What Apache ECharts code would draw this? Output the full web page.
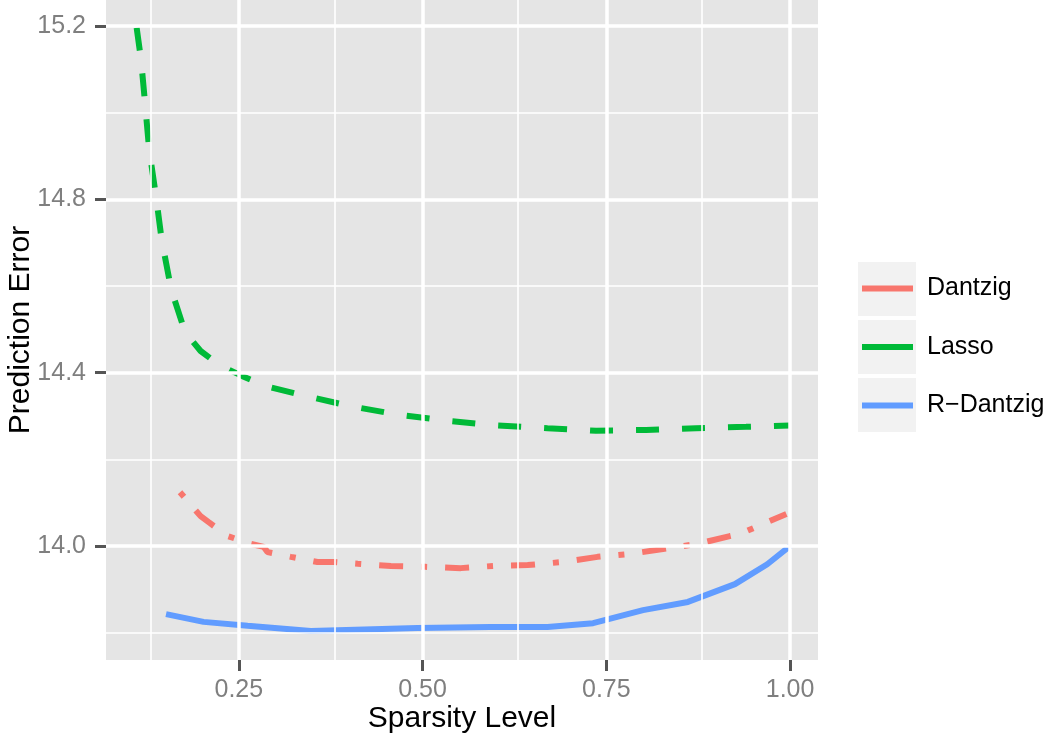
<!DOCTYPE html>
<html>
<head>
<meta charset="utf-8">
<script src="https://cdn.jsdelivr.net/npm/echarts@6/dist/echarts.min.js"></script>
<style>
  html, body { margin: 0; padding: 0; background: #fff; }
  #main { width: 1050px; height: 735px; }
</style>
</head>
<body>
<div id="main"></div>
<script>
// tick values
const xMajor = [0.25, 0.5, 0.75, 1.0]
const xMinor = [0.125, 0.375, 0.625, 0.875]
const yMajor = [14.0, 14.4, 14.8, 15.2]
const yMinor = [13.8, 14.2, 14.6, 15.0]

const seriesNames = ['Dantzig', 'Lasso', 'R\u2212Dantzig']

// Dantzig (dot-dash)
const dantzigX = [0.170, 0.198, 0.209, 0.235, 0.266, 0.284, 0.289, 0.321, 0.357, 0.379, 0.412, 0.457, 0.504,
  0.552, 0.596, 0.643, 0.690, 0.738, 0.783, 0.827, 0.874, 0.918, 0.932, 0.963, 0.995]
const dantzigY = [14.124, 14.069, 14.055, 14.023, 14.005, 13.998, 13.986, 13.975, 13.963, 13.963, 13.959, 13.954, 13.952,
  13.949, 13.954, 13.956, 13.963, 13.975, 13.982, 13.993, 14.005, 14.023, 14.028, 14.051, 14.074]

// Lasso (dashed)
const lassoX = [0.111, 0.117, 0.122, 0.128, 0.137, 0.145, 0.158, 0.177, 0.198, 0.224, 0.255, 0.287, 0.334,
  0.401, 0.467, 0.534, 0.596, 0.670, 0.736, 0.804, 0.872, 0.940, 1.0]
const lassoY = [15.196, 15.122, 15.030, 14.915, 14.811, 14.707, 14.592, 14.493, 14.450, 14.417, 14.392, 14.369, 14.349,
  14.323, 14.303, 14.289, 14.279, 14.272, 14.266, 14.268, 14.272, 14.275, 14.278]

// R-Dantzig (solid)
const rdantzigX = [0.151, 0.202, 0.262, 0.348, 0.493, 0.592, 0.670, 0.732, 0.800, 0.861, 0.925, 0.969, 1.0]
const rdantzigY = [13.843, 13.825, 13.816, 13.804, 13.811, 13.813, 13.813, 13.822, 13.852, 13.871, 13.912, 13.958, 14.0]

const zip = (xs, ys) => xs.map((x, i) => [x, ys[i]])

const font = "'Liberation Sans', Arial, sans-serif"
const myChart = echarts.init(document.getElementById('main'))

// grid lines (ggplot style, drawn as markLines at the tick values)
const gridLines = [
  ...xMinor.map(v => ({ xAxis: v, lineStyle: { width: 1.6 } })),
  ...yMinor.map(v => ({ yAxis: v, lineStyle: { width: 1.6 } })),
  ...xMajor.map(v => ({ xAxis: v, lineStyle: { width: 3.5 } })),
  ...yMajor.map(v => ({ yAxis: v, lineStyle: { width: 3.5 } }))
]

const option = {
  animation: false,
  textStyle: { fontFamily: font },
  grid: {
    show: true,
    left: 106,
    right: 232,
    top: 0,
    bottom: 75,
    containLabel: false,
    outerBoundsMode: 'none',
    backgroundColor: '#E5E5E5',
    borderWidth: 0
  },
  xAxis: {
    type: 'value',
    min: 0.0693,
    max: 1.038,
    name: 'Sparsity Level',
    nameLocation: 'middle',
    nameGap: 44,
    nameMoveOverlap: false,
    nameTextStyle: { fontSize: 30, color: '#000', fontFamily: font },
    axisLine: { show: false },
    axisTick: { show: true, customValues: xMajor, length: 11, lineStyle: { color: '#555', width: 3 } },
    axisLabel: {
      customValues: xMajor, margin: 18, fontSize: 25, color: '#7F7F7F', fontFamily: font,
      formatter: v => v.toFixed(2)
    },
    splitLine: { show: false }
  },
  yAxis: {
    type: 'value',
    min: 13.737,
    max: 15.26,
    name: 'Prediction Error',
    nameLocation: 'middle',
    nameRotate: 90,
    nameGap: 70,
    nameMoveOverlap: false,
    nameTextStyle: { fontSize: 30, color: '#000', fontFamily: font },
    axisLine: { show: false },
    axisTick: { show: true, customValues: yMajor, length: 11, lineStyle: { color: '#555', width: 3 } },
    axisLabel: {
      customValues: yMajor, margin: 20, fontSize: 25, color: '#7F7F7F', fontFamily: font,
      formatter: v => v.toFixed(1)
    },
    splitLine: { show: false }
  },
  legend: {
    orient: 'vertical',
    left: 862,
    top: 276,
    padding: 0,
    itemWidth: 51,
    itemHeight: 6,
    itemGap: 33.5,
    icon: 'rect',
    data: seriesNames,
    textStyle: { fontSize: 25, lineHeight: 24, color: '#000', fontFamily: font, padding: [0, 0, 0, 9] }
  },
  graphic: [
    // legend key backgrounds
    { type: 'rect', left: 858, top: 262, z: -1, shape: { width: 58, height: 54 }, style: { fill: '#F2F2F2' } },
    { type: 'rect', left: 858, top: 320, z: -1, shape: { width: 58, height: 54 }, style: { fill: '#F2F2F2' } },
    { type: 'rect', left: 858, top: 378, z: -1, shape: { width: 58, height: 54 }, style: { fill: '#F2F2F2' } }
  ],
  series: [
    {
      name: 'grid',
      type: 'line',
      data: [],
      z: 1,
      silent: true,
      markLine: {
        silent: true,
        symbol: ['none', 'none'],
        label: { show: false },
        lineStyle: { color: '#fff', type: 'solid' },
        data: gridLines
      }
    },
    {
      name: seriesNames[0],
      type: 'line',
      z: 3,
      data: zip(dantzigX, dantzigY),
      showSymbol: false,
      color: '#F8766D',
      lineStyle: { width: 6, type: [6, 18, 24, 18], cap: 'butt' }
    },
    {
      name: seriesNames[1],
      type: 'line',
      z: 3,
      data: zip(lassoX, lassoY),
      showSymbol: false,
      color: '#00BA38',
      lineStyle: { width: 6, type: [23, 23], cap: 'butt' }
    },
    {
      name: seriesNames[2],
      type: 'line',
      z: 3,
      data: zip(rdantzigX, rdantzigY),
      showSymbol: false,
      color: '#619CFF',
      lineStyle: { width: 6 }
    }
  ]
}

myChart.setOption(option)
</script>
</body>
</html>
